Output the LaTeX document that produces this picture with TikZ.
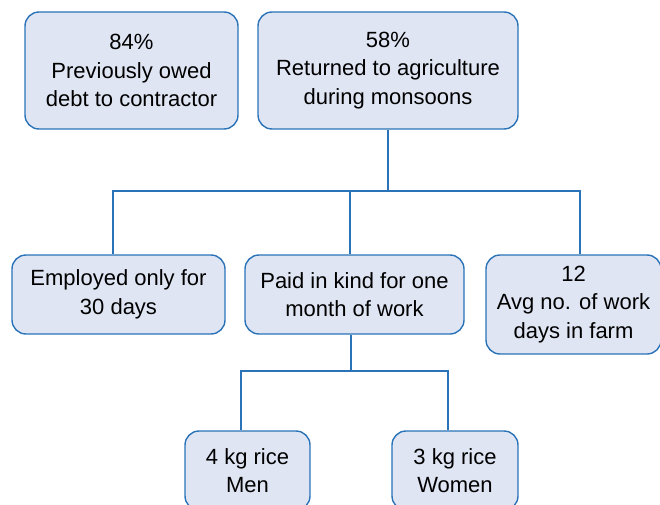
\documentclass[tikz,border=0pt]{standalone}
\usepackage{fontspec}
\setmainfont{Liberation Sans}
\definecolor{boxfill}{HTML}{DFE5F3}
\definecolor{boxline}{HTML}{2A73B8}
\begin{document}
\begin{tikzpicture}[x=1pt,y=-1pt,
  box/.style={draw=boxline,fill=boxfill,line width=1.4pt,rounded corners=14pt,
    align=center,inner sep=0pt,font=\fontsize{22}{28.5}\selectfont},
  conn/.style={draw=boxline,line width=1.3pt}]
\path[use as bounding box] (0,0) rectangle (660,505);
\clip (0,0) rectangle (660,505);
\node[box,minimum width=213pt,minimum height=117pt] (A) at (131.5,70.5) {84\%\\Previously owed\\debt to contractor};
\node[box,minimum width=260pt,minimum height=117pt] (B) at (388,70.5) {58\%\\Returned to agriculture\\during monsoons};
\node[box,minimum width=213pt,minimum height=79pt] (C) at (118.5,294.5) {Employed only for\\30 days};
\node[box,minimum width=219pt,minimum height=79pt] (D) at (354.5,294.5) {Paid in kind for one\\month of work};
\node[box,minimum width=175pt,minimum height=99pt] (E) at (573.5,304.5) {12\\Avg no. of work\\days in farm};
\node[box,minimum width=125pt,minimum height=79pt] (F) at (247.5,470.5) {4 kg rice\\Men};
\node[box,minimum width=126pt,minimum height=79pt] (G) at (455,470.5) {3 kg rice\\Women};
\coordinate (xB) at (388,0);
\coordinate (xC) at (113,0);
\coordinate (xD) at (350,0);
\coordinate (xE) at (580,0);
\coordinate (xD2) at (351,0);
\coordinate (xF) at (241,0);
\coordinate (xG) at (448,0);
\coordinate (y1) at (0,191);
\coordinate (y2) at (0,371);
\draw[conn] (B.south -| xB) -- (xB |- y1);
\draw[conn] (C.north -| xC) -- (xC |- y1) -- (xE |- y1) -- (E.north -| xE);
\draw[conn] (D.north -| xD) -- (xD |- y1);
\draw[conn] (D.south -| xD2) -- (xD2 |- y2);
\draw[conn] (F.north -| xF) -- (xF |- y2) -- (xG |- y2) -- (G.north -| xG);
\end{tikzpicture}
\end{document}
